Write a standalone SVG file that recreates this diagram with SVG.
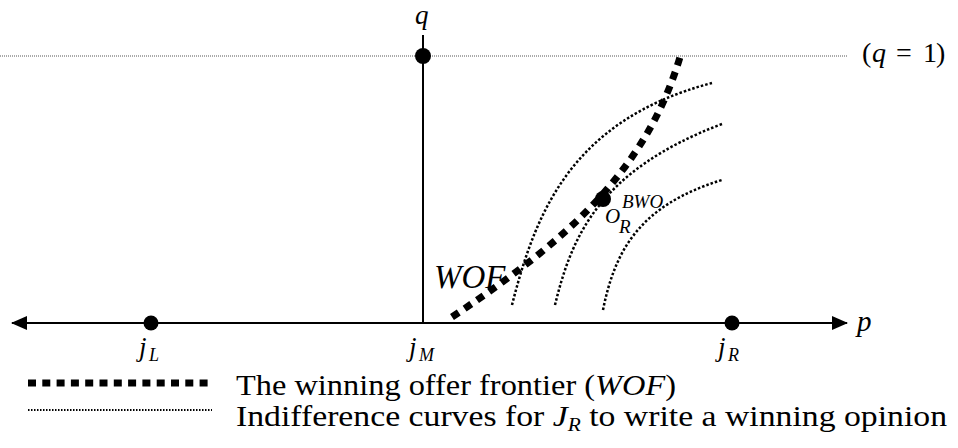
<svg xmlns="http://www.w3.org/2000/svg" width="958" height="448" viewBox="0 0 958 448">
<style>
text{font-family:"Liberation Serif","Times New Roman",serif;fill:#000}
.it{font-style:italic}
.ax{stroke:#000;stroke-width:2;fill:none}
.wof{stroke:#000;stroke-width:7;fill:none;stroke-dasharray:8 7}
.ic{stroke:#000;stroke-width:2.5;fill:none;stroke-dasharray:2.5 2}
.dot{fill:#000}
</style>
<defs>
<marker id="ah" viewBox="0 0 16 14" refX="15" refY="7" markerWidth="16" markerHeight="14" markerUnits="userSpaceOnUse" orient="auto-start-reverse">
<path d="M0,0 L16,7 L0,14 Z" fill="#000"/>
</marker>
</defs>
<g id="connectors">
<line x1="0" y1="56" x2="848" y2="56" stroke="#555" stroke-width="1" stroke-dasharray="1 1"/>
<line class="ax" x1="423" y1="35" x2="423" y2="323"/>
<line class="ax" x1="12" y1="323" x2="847" y2="323" marker-start="url(#ah)" marker-end="url(#ah)"/>
<path id="wof" class="wof" d="M452,317 C560,245 645,175 680,57"/>
<path class="ic" d="M512,305 C535,215 570,120 712,83"/>
<path class="ic" d="M555,305 C572,235 600,170 722,124"/>
<path class="ic" d="M603,310 C615,250 640,205 722,180"/>
</g>
<g id="node-q1"><circle class="dot" cx="423" cy="56" r="8"/></g>
<g id="node-jL"><circle class="dot" cx="151" cy="323" r="7.5"/>
<text class="it" x="139" y="356" font-size="27">j</text><text class="it" x="149" y="361" font-size="18">L</text></g>
<g id="node-jM"><text class="it" x="409" y="356" font-size="27">j</text><text class="it" x="419" y="361" font-size="18">M</text></g>
<g id="node-jR"><circle class="dot" cx="732" cy="323" r="7.5"/>
<text class="it" x="718" y="356" font-size="27">j</text><text class="it" x="728" y="361" font-size="18">R</text></g>
<g id="node-oR"><circle class="dot" cx="603" cy="199" r="8"/>
<text class="it" x="605" y="223" font-size="21">O</text><text class="it" x="622" y="208" font-size="19">BWO</text><text class="it" x="619" y="233" font-size="19">R</text></g>
<g id="labels">
<text class="it" x="415" y="24" font-size="27">q</text>
<text x="857" y="331" class="it" font-size="29">p</text>
<text x="862" y="62" font-size="28"><tspan>(</tspan><tspan class="it" x="872">q</tspan><tspan x="896">=</tspan><tspan x="923">1</tspan><tspan x="936">)</tspan></text>
<text class="it" x="434" y="288" font-size="33">WOF</text>
</g>
<g id="legend">
<line x1="28" y1="383" x2="212" y2="383" stroke="#000" stroke-width="7" stroke-dasharray="8 6.3"/>
<line x1="28" y1="410" x2="212" y2="410" stroke="#000" stroke-width="2" stroke-dasharray="1.5 1.5"/>
<text x="236" y="395" font-size="30" textLength="440" lengthAdjust="spacingAndGlyphs">The winning offer frontier (<tspan class="it">WOF</tspan>)</text>
<text x="236" y="426" font-size="30" textLength="711" lengthAdjust="spacingAndGlyphs">Indifference curves for <tspan class="it">J</tspan><tspan class="it" font-size="19" dy="5">R</tspan><tspan dy="-5"> to write a winning opinion</tspan></text>
</g>
</svg>
